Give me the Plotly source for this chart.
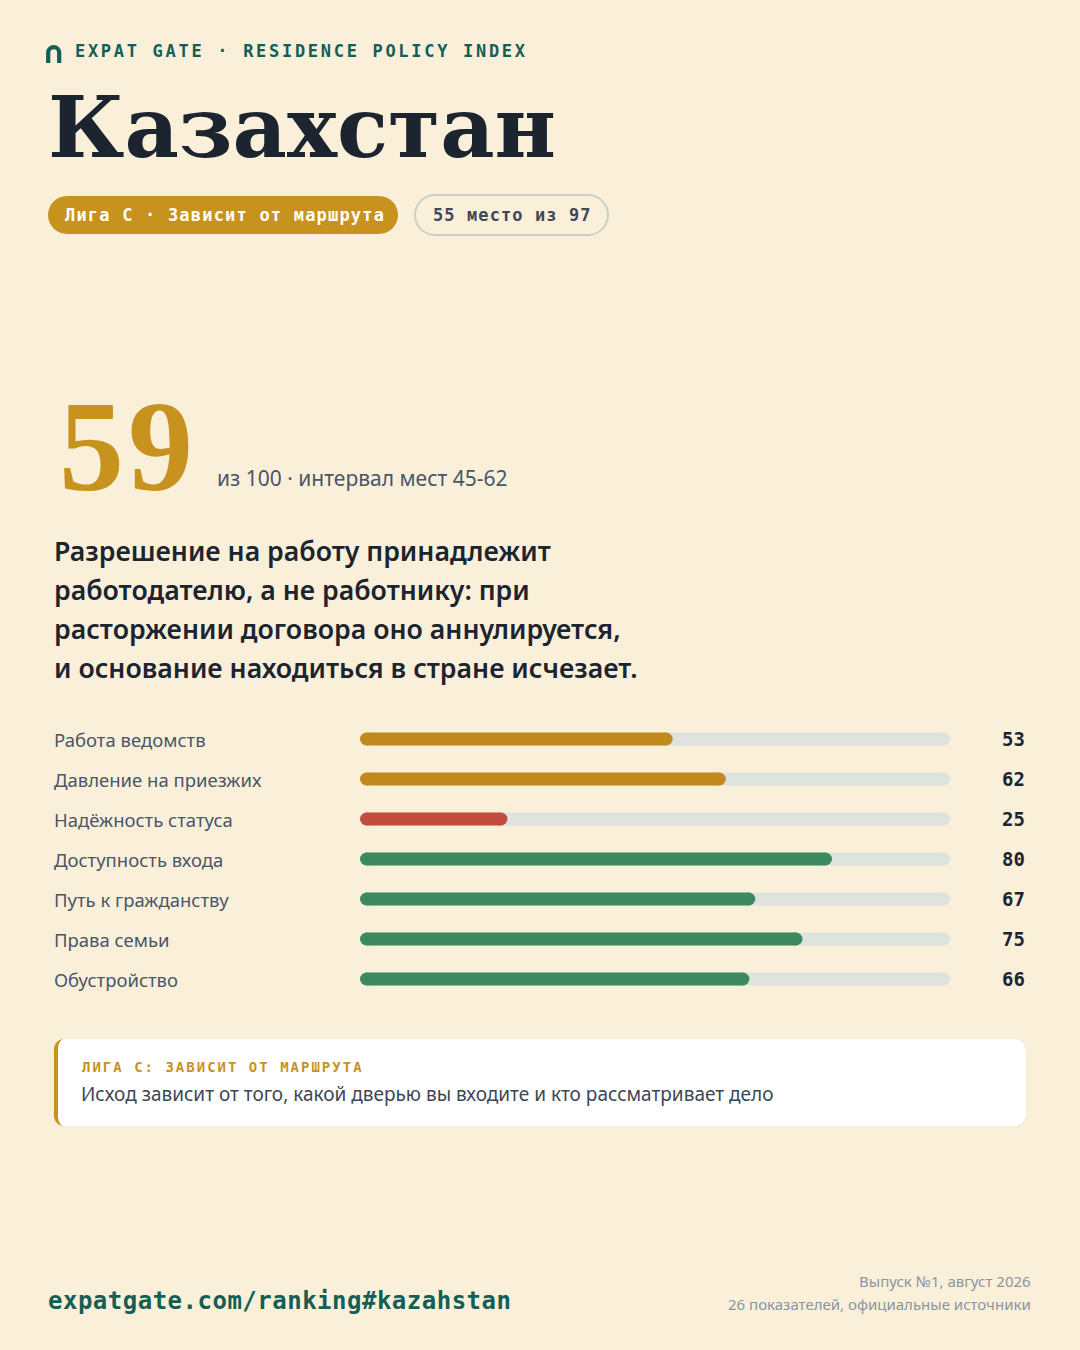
import plotly.graph_objects as go

W, H = 1080, 1350

# ---------------- data ----------------
country = "Казахстан"
brand = "EXPAT GATE · RESIDENCE POLICY INDEX"
league_badge = "Лига C · Зависит от маршрута"
rank_text = "55 место из 97"
overall_score = 59
score_note = "из 100 · интервал мест 45-62"
summary_lines = [
    "Разрешение на работу принадлежит",
    "работодателю, а не работнику: при",
    "расторжении договора оно аннулируется,",
    "и основание находиться в стране исчезает.",
]
categories = [
    "Работа ведомств",
    "Давление на приезжих",
    "Надёжность статуса",
    "Доступность входа",
    "Путь к гражданству",
    "Права семьи",
    "Обустройство",
]
scores = [53, 62, 25, 80, 67, 75, 66]
callout_title = "ЛИГА C: ЗАВИСИТ ОТ МАРШРУТА"
callout_body = "Исход зависит от того, какой дверью вы входите и кто рассматривает дело"
footer_url = "expatgate.com/ranking#kazahstan"
footer_notes = ["Выпуск №1, август 2026", "26 показателей, официальные источники"]

# ---------------- style ----------------
BG = "#FAF0DA"
DARK = "#1C2430"
TEAL = "#135E55"
GOLD = "#C8921F"
BAR_GOLD = "#C28A1E"
BAR_GREEN = "#3C8A5E"
BAR_RED = "#C24D3F"
TRACK = "#DEE3DD"
GRAY = "#4A5568"
LIGHT_GRAY = "#8A94A2"
MONO = "DejaVu Sans Mono"
SANS = "Noto Sans"
SERIF = "DejaVu Serif"

BAR_X0, BAR_X1 = 360, 950          # pixel extent of the 0..100 scale
ROW_TOP, ROW_H = 719, 40
BAR_W = 13


def bar_color(v):
    if v < 40:
        return BAR_RED
    if v < 65:
        return BAR_GOLD
    return BAR_GREEN


def X(px):
    return px / W


def Y(py):
    return 1 - py / H


def rpath(x0, y0, x1, y1, rxl, ryl, rxr=None, ryr=None):
    if rxr is None:
        rxr, ryr = rxl, ryl
    k = 0.5523
    pts = [
        ("M", [(x0 + rxl, y0)]),
        ("L", [(x1 - rxr, y0)]),
        ("C", [(x1 - rxr + k * rxr, y0), (x1, y0 + ryr - k * ryr), (x1, y0 + ryr)]),
        ("L", [(x1, y1 - ryr)]),
        ("C", [(x1, y1 - ryr + k * ryr), (x1 - rxr + k * rxr, y1), (x1 - rxr, y1)]),
        ("L", [(x0 + rxl, y1)]),
        ("C", [(x0 + rxl - k * rxl, y1), (x0, y1 - ryl + k * ryl), (x0, y1 - ryl)]),
        ("L", [(x0, y0 + ryl)]),
        ("C", [(x0, y0 + ryl - k * ryl), (x0 + rxl - k * rxl, y0), (x0 + rxl, y0)]),
    ]
    s = ""
    for cmd, ps in pts:
        s += cmd + " " + " ".join(f"{X(a):.5f},{Y(b):.5f}" for a, b in ps) + " "
    return s + "Z"


fig = go.Figure()

# bars: data units -> px scale
units_per_px = 100 / (BAR_X1 - BAR_X0)
cap = (BAR_W / 2) * units_per_px
for cat, v in zip(categories, scores):
    fig.add_trace(go.Scatter(
        x=[cap, 100 - cap], y=[cat, cat], mode="lines+markers",
        line=dict(color=TRACK, width=BAR_W),
        marker=dict(color=TRACK, size=BAR_W, line=dict(width=0)),
        hoverinfo="skip", cliponaxis=False, showlegend=False))
for cat, v in zip(categories, scores):
    fig.add_trace(go.Scatter(
        x=[cap, v - cap], y=[cat, cat], mode="lines+markers",
        line=dict(color=bar_color(v), width=BAR_W),
        marker=dict(color=bar_color(v), size=BAR_W, line=dict(width=0)),
        hoverinfo="skip", cliponaxis=False, showlegend=False))

shapes = []
# logo arch
lx0, lx1, ltop, lbot = 48.2, 59.2, 47.2, 63
cx = (lx0 + lx1) / 2
r = (lx1 - lx0) / 2
k = 0.5523 * r
cy = ltop + r
logo = (f"M {X(lx0):.5f},{Y(lbot):.5f} L {X(lx0):.5f},{Y(cy):.5f} "
        f"C {X(lx0):.5f},{Y(cy - k):.5f} {X(cx - k):.5f},{Y(ltop):.5f} {X(cx):.5f},{Y(ltop):.5f} "
        f"C {X(cx + k):.5f},{Y(ltop):.5f} {X(lx1):.5f},{Y(cy - k):.5f} {X(lx1):.5f},{Y(cy):.5f} "
        f"L {X(lx1):.5f},{Y(lbot):.5f}")
shapes.append(dict(type="path", xref="paper", yref="paper", path=logo,
                   line=dict(color=TEAL, width=4.2), fillcolor="rgba(0,0,0,0)"))
# badges
shapes.append(dict(type="path", xref="paper", yref="paper",
                   path=rpath(48, 196, 398, 234, 19, 19), fillcolor=GOLD, line=dict(width=0)))
shapes.append(dict(type="path", xref="paper", yref="paper",
                   path=rpath(415, 195, 608, 235, 20, 20), fillcolor="rgba(0,0,0,0)",
                   line=dict(color="#C9CFC9", width=2)))
# callout card
shapes.append(dict(type="path", xref="paper", yref="paper",
                   path=rpath(54, 1039, 1026, 1126, 10, 10), fillcolor=GOLD, line=dict(width=0)))
shapes.append(dict(type="path", xref="paper", yref="paper",
                   path=rpath(58, 1039, 1026, 1126, 6, 10, 10, 10), fillcolor="#FFFFFF",
                   line=dict(width=0)))

ann = []


def text(px, py, t, size, color, family, weight="normal", anchor="left"):
    ann.append(dict(x=X(px), y=Y(py), xref="paper", yref="paper", text=t, showarrow=False,
                    xanchor=anchor, yanchor="middle", align=anchor,
                    font=dict(size=size, color=color, family=family, weight=weight)))


def spaced(t, ls):
    return f'<span style="letter-spacing:{ls}px">{t}</span>'


text(73, 51, spaced(brand, 2.7), 17, TEAL, MONO, "bold")
text(46, 127, country, 84, DARK, SERIF, "bold")
text(63, 215, spaced(league_badge, 1.2), 17, "#FFFFFF", MONO, "bold")
text(431, 215, spaced(rank_text, 1.1), 17, "#3F4758", MONO, "bold")
text(57, 446, spaced(str(overall_score), 4), 130, GOLD, "Liberation Serif", "bold")
text(215, 478, score_note, 21, GRAY, SANS)
for i, line in enumerate(summary_lines):
    text(52, 550 + i * 39, line, 26.7, DARK, SANS, 600)
text(80, 1067, spaced(callout_title, 2.0), 14, GOLD, MONO, "bold")
text(79, 1094, callout_body, 19, "#3D4656", SANS)
text(46, 1301, spaced(footer_url, 0.5), 24, TEAL, MONO, "bold")
text(1033, 1281, footer_notes[0], 15, LIGHT_GRAY, SANS, anchor="right")
text(1033, 1304, footer_notes[1], 15, LIGHT_GRAY, SANS, anchor="right")

for cat, v in zip(categories, scores):
    ann.append(dict(x=X(52), y=cat, xref="paper", yref="y", text=cat, showarrow=False,
                    xanchor="left", yanchor="middle",
                    font=dict(size=18.5, color=GRAY, family=SANS)))
    ann.append(dict(x=X(1027), y=cat, xref="paper", yref="y", text=str(v), showarrow=False,
                    xanchor="right", yanchor="middle",
                    font=dict(size=19, color=DARK, family=MONO, weight="bold")))

fig.update_layout(
    width=W, height=H, margin=dict(l=0, r=0, t=0, b=0, pad=0),
    paper_bgcolor=BG, plot_bgcolor="rgba(0,0,0,0)",
    showlegend=False, shapes=shapes, annotations=ann,
    xaxis=dict(domain=[X(BAR_X0), X(BAR_X1)], range=[0, 100], visible=False, fixedrange=True),
    yaxis=dict(domain=[Y(ROW_TOP + ROW_H * len(categories)), Y(ROW_TOP)], type="category",
               categoryorder="array", categoryarray=categories,
               range=[len(categories) - 0.5, -0.5], visible=False, fixedrange=True),
    hovermode=False,
)

fig.write_html("out.html", config=dict(displayModeBar=False, staticPlot=True),
               post_script="document.body.style.margin='0';document.body.style.overflow='hidden';")
